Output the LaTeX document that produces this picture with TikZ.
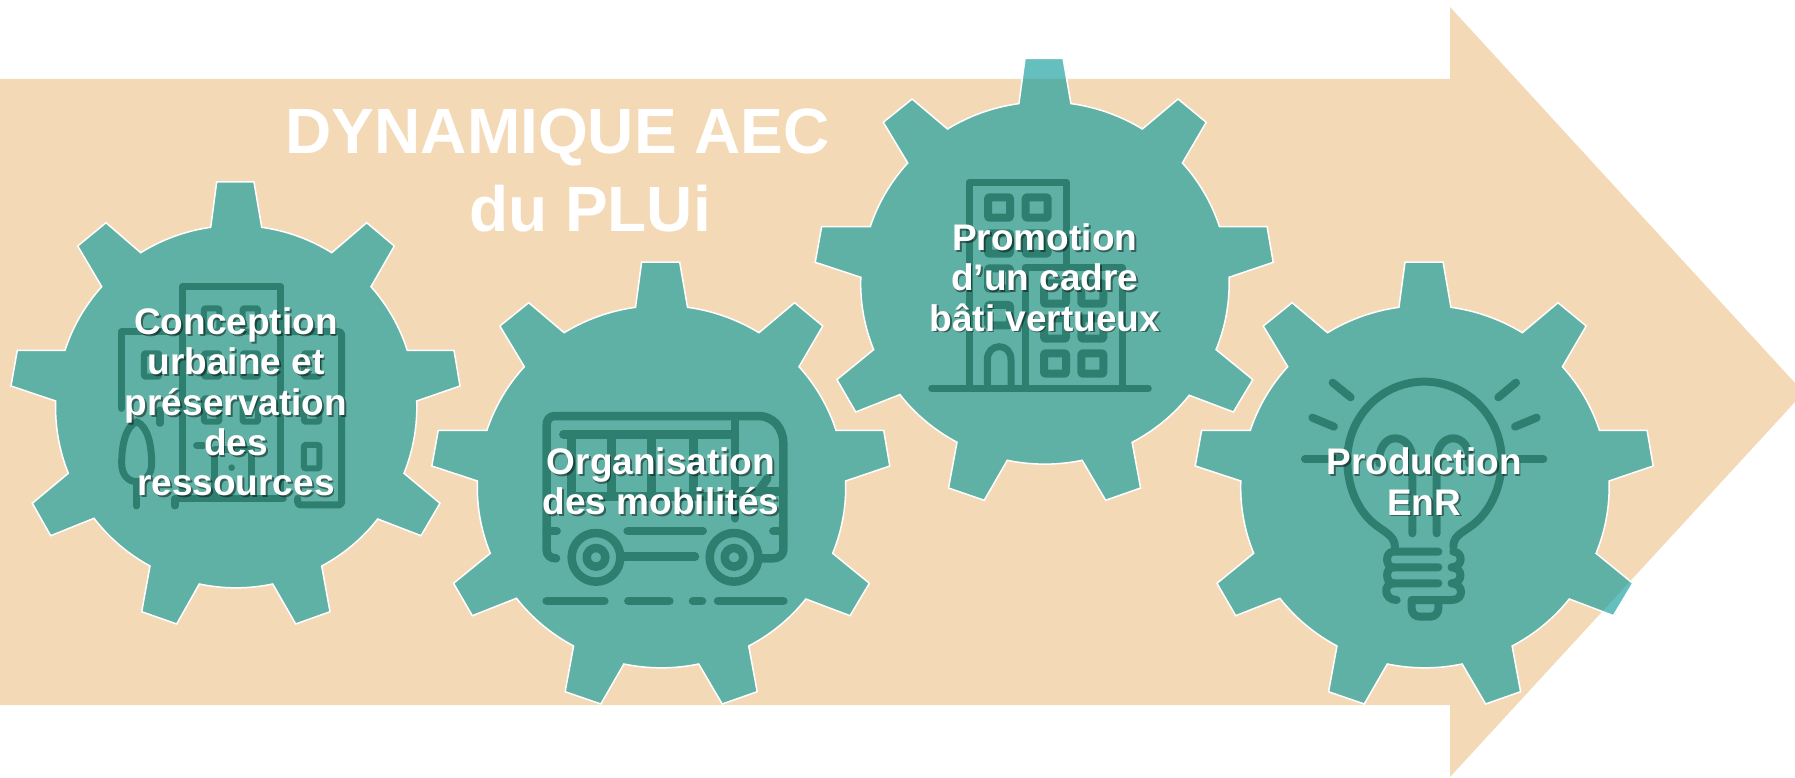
\documentclass[tikz,border=0pt]{standalone}
\usepackage{fontspec}
\setmainfont{Liberation Sans}
\definecolor{arrowpeach}{HTML}{F4D9B6}
\definecolor{gearteal}{HTML}{129D9D}
\definecolor{icondark}{HTML}{2F7F71}
\tikzset{
  rim/.style={bend left=12,looseness=.86},
  icon/.style={draw=icondark,line width=7pt,line cap=round,line join=round},
  pane/.style={icon,line width=6pt,rounded corners=1pt},
  gearlabel/.style={align=center,inner sep=0pt,font=\bfseries\fontsize{37}{40.3}\selectfont},
  titlelabel/.style={inner sep=0pt,text=white,anchor=base,font=\bfseries\fontsize{64}{78}\selectfont},
  gearwheel/.pic={
    \path[fill=gearteal,fill opacity=.65,draw=white,line width=1.5pt,line join=miter]
      (-18.8,-221) -- (18.5,-221) -- (26.2,-175.7) to[rim] (96.2,-150.3)
      -- (131.2,-180.3) -- (158.8,-157) -- (135.5,-116.3) to[rim] (171.8,-52.7)
      -- (218.5,-52.7) -- (224.5,-17) -- (181.2,-2) to[rim] (168.5,70.3)
      -- (204.5,100.3) -- (185.5,132.7) -- (142.2,116) to[rim] (86.2,163)
      -- (94.5,208.7) -- (60.2,221) -- (37.2,181) to[rim] (-36.2,181)
      -- (-58.8,221) -- (-93.8,208.7) -- (-85.5,163) to[rim] (-141.5,115.3)
      -- (-184.8,132.7) -- (-203.2,100.3) -- (-167.2,70.3) to[rim] (-179.8,-2)
      -- (-224.5,-17) -- (-218.2,-52.7) -- (-170.5,-52.7) to[rim] (-133.8,-116.3)
      -- (-157.8,-157) -- (-129.5,-180.3) -- (-94.8,-150.3) to[rim] (-24.8,-175.7)
      -- cycle;
  }
}
% white label over a soft dark copy
\newcommand{\shadowlabel}[3]{
  \node[gearlabel,text=black,text opacity=.45,xshift=1.8pt,yshift=-1.8pt] (#1shadow) at (#2) {#3};
  \node[gearlabel,text=white] (#1) at (#2) {#3};
}
\begin{document}
\begin{tikzpicture}[x=1pt,y=-1pt]
    \useasboundingbox (0,0) rectangle (1795,778);

    % Big arrow
    \fill[arrowpeach] (0,79) -- (1450,79) -- (1450,7) -- (1795,383) -- (1795,402)
      -- (1450,777) -- (1450,705) -- (0,705) -- cycle;

    % Title
    \node[titlelabel] (titleaec) at (557.7,153.3) {DYNAMIQUE AEC};
    \node[titlelabel] (titleplui) at (590,231) {du PLUi};

    % Gears
    \pic at (235.5,403) {gearwheel};
    \pic[xscale=1.02] at (660.8,483) {gearwheel};
    \pic[xscale=1.02] at (1044.2,279.3) {gearwheel};
    \pic[xscale=1.02] at (1424.2,483) {gearwheel};

    % City icon
    \begin{scope}[shift={(0,170)},scale=1/3]
      \draw[icon] (547,985) -- (547,350) -- (843,350) -- (843,985);
      \draw[icon] (525,1008) -- (525,985) -- (850,985);
      \draw[icon] (365,715) -- (365,485) -- (547,485);
      \draw[icon,rounded corners=3pt] (843,485) -- (1025,485) -- (1025,1005) -- (893,1005) -- (893,985);
      \draw[icon] (480,720) -- (480,760);
      \foreach \wx/\wy in {612/415,728/415,612/550,728/550,612/685,728/685,432/550,912/550,912/685,912/825}
        \draw[pane] (\wx,\wy) rectangle +(46,70);
      \draw[icon] (645,985) -- (645,840) -- (755,840) -- (755,985);
      \draw[icon] (590,827) -- (610,827);
      \fill[icondark] (695,893) circle[radius=10];
      \draw[icon] (410,755) .. controls (375,770) and (365,830) .. (365,880)
        .. controls (365,915) and (385,935) .. (410,935)
        .. controls (435,935) and (455,915) .. (455,880)
        .. controls (455,830) and (445,770) .. (410,755) -- cycle;
      \draw[icon] (410,935) -- (410,1008);
    \end{scope}

    % Bus icon
    \begin{scope}[shift={(430,250)},scale=1/3,icon/.append style={line width=8.5pt}]
      \draw[icon] (378,925) .. controls (360,925) and (350,915) .. (350,900) -- (350,525)
        .. controls (350,508) and (360,498) .. (375,498) -- (985,498)
        .. controls (1030,498) and (1060,535) .. (1060,580) -- (1060,900)
        .. controls (1060,915) and (1045,925) .. (1030,925) -- (990,925);
      \draw[icon] (400,553) -- (915,553);
      \draw[icon] (915,510) -- (915,805);
      \draw[icon] (425,553) -- (425,740) -- (915,740);
      \foreach \barx in {545,665,790}
        \draw[icon] (\barx,553) -- (\barx,740);
      \draw[icon] (915,725) -- (1060,725);
      \draw[icon] (985,725) -- (1012,685);
      \draw[icon] (350,843) -- (380,843);
      \draw[icon] (1030,843) -- (1060,843);
      \draw[icon] (593,843) -- (818,843);
      \draw[icon] (575,920) -- (795,920);
      \foreach \wheelx in {498,912} {
        \draw[icon] (\wheelx,922) circle[radius=73];
        \draw[icon] (\wheelx,922) circle[radius=28];
      }
      \draw[icon] (350,1053) -- (523,1053);
      \draw[icon] (595,1053) -- (718,1053);
      \draw[icon] (789,1053) -- (816,1053);
      \draw[icon] (864,1053) -- (1060,1053);
    \end{scope}

    % Buildings icon
    \begin{scope}[shift={(810,50)},scale=1/3,pane/.append style={line width=8pt}]
      \draw[icon] (365,1015) -- (1015,1015);
      \draw[icon] (477,1015) -- (477,397) -- (770,397) -- (770,645);
      \draw[icon] (645,1015) -- (645,653) -- (937,653) -- (937,1015);
      \foreach \wx/\wy in {534/442,647/442,534/550,647/550,534/655,534/765,
                           702/700,814/700,702/805,814/805,702/910,814/910}
        \draw[pane] (\wx,\wy) rectangle +(66,61);
      \draw[icon] (532,1015) -- (532,930) .. controls (532,905) and (548,890) .. (568,890)
        .. controls (588,890) and (603,905) .. (603,930) -- (603,1015);
    \end{scope}

    % Bulb icon
    \begin{scope}[shift={(1190,250)},scale=1/3,icon/.append style={line width=8pt}]
      \draw[icon] (615,890) .. controls (612,850) and (575,845) .. (540,810)
        .. controls (495,765) and (472,700) .. (472,630)
        .. controls (472,500) and (575,395) .. (703,395)
        .. controls (831,395) and (935,500) .. (935,630)
        .. controls (935,700) and (910,765) .. (865,810)
        .. controls (830,845) and (790,850) .. (790,890);
      \draw[icon] (568,640) .. controls (565,590) and (590,565) .. (615,565)
        .. controls (645,565) and (667,590) .. (667,630) -- (667,850);
      \draw[icon] (838,640) .. controls (841,590) and (816,565) .. (790,565)
        .. controls (762,565) and (740,590) .. (740,630) -- (740,850);
      \draw[icon] (428,398) -- (482,442);
      \draw[icon] (978,398) -- (925,442);
      \draw[icon] (367,503) -- (432,530);
      \draw[icon] (1040,503) -- (975,530);
      \draw[icon] (345,627) -- (470,627);
      \draw[icon] (935,627) -- (1060,627);
      \draw[icon] (745,905) -- (610,905) .. controls (585,905) and (585,952) .. (610,952) -- (745,952);
      \draw[icon] (610,952) .. controls (585,952) and (585,1000) .. (610,1000) -- (745,1000);
      \draw[icon] (610,1000) .. controls (580,1000) and (580,1050) .. (620,1050);
      \draw[icon] (790,905) .. controls (820,905) and (820,952) .. (785,952);
      \draw[icon] (785,952) .. controls (820,952) and (820,1000) .. (785,1000);
      \draw[icon] (785,1000) .. controls (820,1000) and (825,1050) .. (785,1050) -- (665,1050)
        -- (665,1075) .. controls (665,1090) and (675,1100) .. (690,1100) -- (720,1100)
        .. controls (735,1100) and (745,1090) .. (745,1075) -- (745,1050);
    \end{scope}

    % Labels
    \shadowlabel{conception}{236,402}{Conception\\urbaine et\\préservation\\des\\ressources}
    \shadowlabel{organisation}{661,481.5}{Organisation\\des mobilités}
    \shadowlabel{promotion}{1044.7,277.5}{Promotion\\d’un cadre\\bâti vertueux}
    \shadowlabel{production}{1424,481.5}{Production\\EnR}
\end{tikzpicture}
\end{document}
